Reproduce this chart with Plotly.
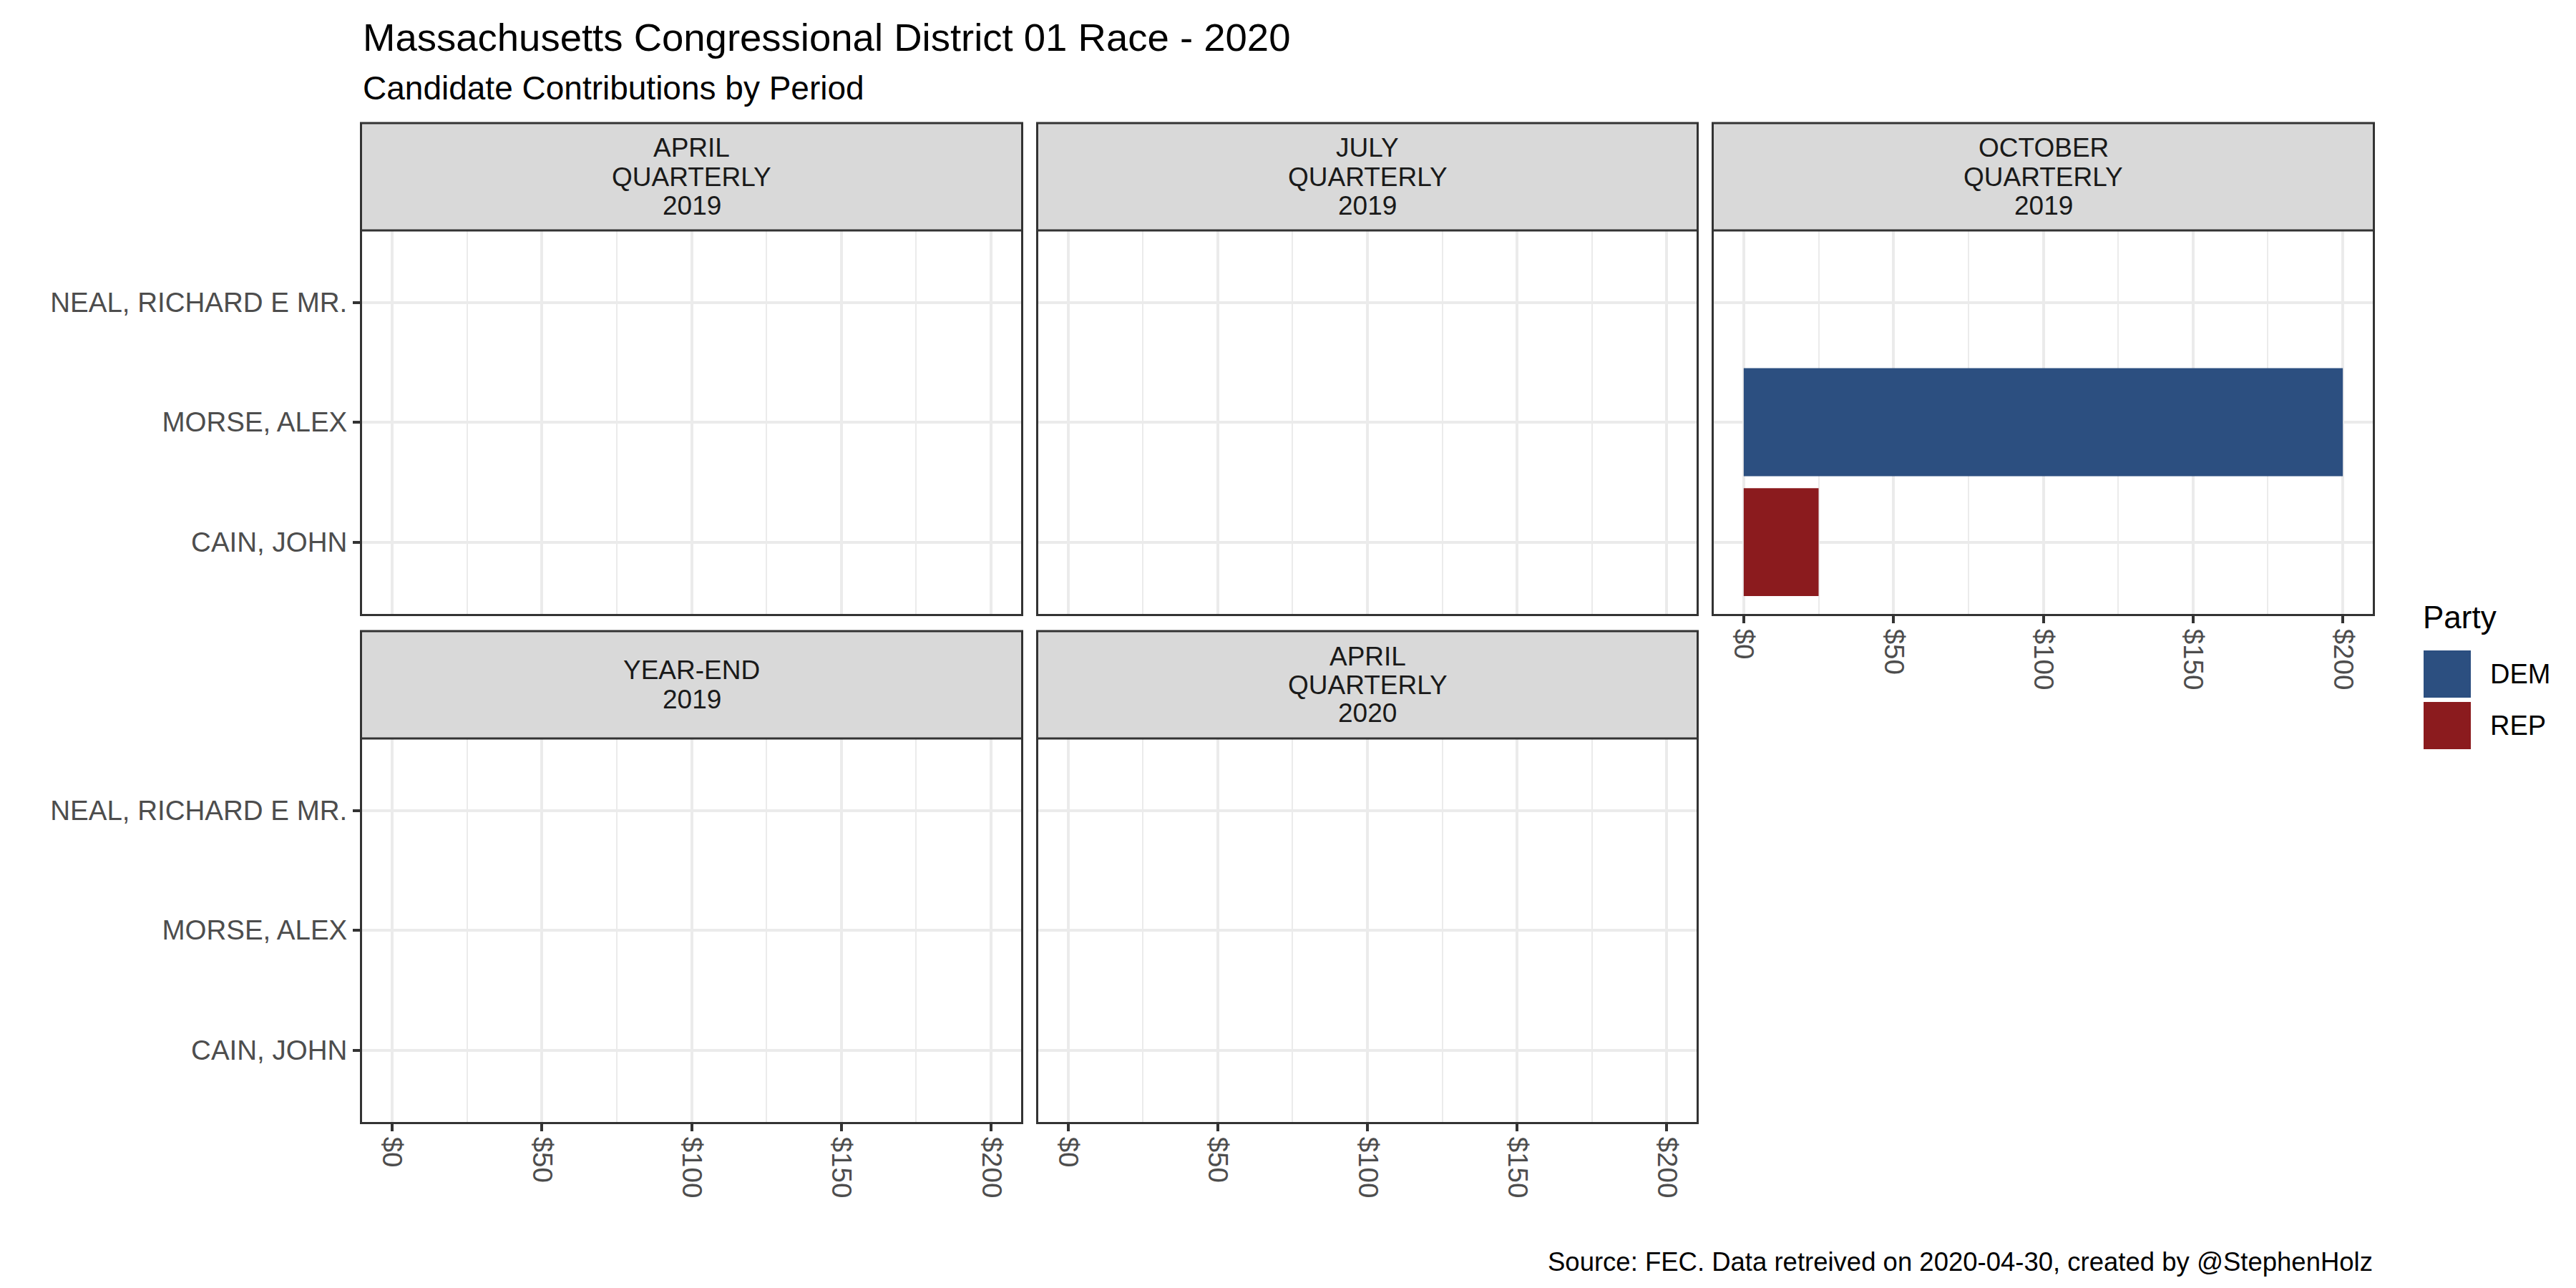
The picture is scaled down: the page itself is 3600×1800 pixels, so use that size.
import plotly.graph_objects as go

# ---------------- data ----------------
period_labels = [
    ["APRIL", "QUARTERLY", "2019"],
    ["JULY", "QUARTERLY", "2019"],
    ["OCTOBER", "QUARTERLY", "2019"],
    ["YEAR-END", "2019"],
    ["APRIL", "QUARTERLY", "2020"],
]
candidates = ["CAIN, JOHN", "MORSE, ALEX", "NEAL, RICHARD E MR."]
candidate_party = ["REP", "DEM", "DEM"]
parties = ["DEM", "REP"]
party_colors = {"DEM": "#2C4F80", "REP": "#8B1B1E"}

contrib_apr_2019 = [None, None, None]
contrib_jul_2019 = [None, None, None]
contrib_oct_2019 = [25, 200, None]
contrib_ye_2019 = [None, None, None]
contrib_apr_2020 = [None, None, None]
contributions = [contrib_apr_2019, contrib_jul_2019, contrib_oct_2019,
                 contrib_ye_2019, contrib_apr_2020]

x_tickvals = [0, 50, 100, 150, 200]
x_ticktext = ["$0", "$50", "$100", "$150", "$200"]

title_text = "Massachusetts Congressional District 01 Race - 2020"
subtitle_text = "Candidate Contributions by Period"
caption_text = "Source: FEC. Data retreived on 2020-04-30, created by @StephenHolz"
legend_title = "Party"

# ---------------- layout geometry (pixels) ----------------
W, H = 3600, 1800
col_x = [(498, 1419), (1443, 2363), (2387, 3308)]
row_y = [(314, 850), (1024, 1560)]   # panel top, bottom
strip_h = 150
FONT = "Liberation Sans, Arial, sans-serif"
GRID = "#EBEBEB"
DARK = "#333333"
TICK_SIZE = 38.5

def px_x(v):
    return v / W

def px_y(v):
    return 1 - v / H

fig = go.Figure()
shapes = []
annotations = []

n_panels = len(period_labels)
for i in range(n_panels):
    r, c = divmod(i, 3)
    ax = "" if i == 0 else str(i + 1)
    xa, ya = "x" + ax, "y" + ax
    vals = contributions[i]
    for p in parties:
        xs = [v if candidate_party[k] == p else None for k, v in enumerate(vals)]
        fig.add_trace(go.Bar(
            x=xs, y=candidates, orientation="h", width=0.9,
            marker=dict(color=party_colors[p], line=dict(width=0)),
            xaxis=xa, yaxis=ya, showlegend=False, hoverinfo="skip",
        ))
    x0, x1 = col_x[c]
    y0, y1 = row_y[r]
    has_below = (i + 3) < n_panels
    show_x = not has_below
    show_y = (c == 0)
    fig.layout["xaxis" + ax] = dict(
        domain=[px_x(x0), px_x(x1)], anchor=ya, range=[-10, 210],
        tickmode="array", tickvals=x_tickvals, ticktext=x_ticktext,
        showticklabels=show_x, ticks="outside" if show_x else "",
        ticklen=10, tickwidth=4, tickcolor=DARK, tickangle=90,
        tickfont=dict(family=FONT, size=TICK_SIZE, color="#4D4D4D"),
        showgrid=True, gridcolor=GRID, gridwidth=3.7,
        minor=dict(dtick=25, tick0=0, showgrid=True, gridcolor=GRID, gridwidth=1.8, ticks=""),
        zeroline=False, showline=True, mirror=True, linecolor=DARK, linewidth=3,
        fixedrange=True,
    )
    fig.layout["yaxis" + ax] = dict(
        domain=[px_y(y1), px_y(y0)], anchor=xa, type="category",
        categoryorder="array", categoryarray=candidates, range=[-0.6, 2.6],
        showticklabels=show_y, ticks="outside" if show_y else "",
        ticklen=10, tickwidth=4, tickcolor=DARK,
        tickfont=dict(family=FONT, size=TICK_SIZE, color="#4D4D4D"),
        showgrid=True, gridcolor=GRID, gridwidth=3.7,
        zeroline=False, showline=True, mirror=True, linecolor=DARK, linewidth=3,
        fixedrange=True,
    )
    # strip
    shapes.append(dict(type="rect", xref="paper", yref="paper",
                       x0=px_x(x0 - 1.5), x1=px_x(x1 + 1.5),
                       y0=px_y(y0), y1=px_y(y0 - strip_h),
                       fillcolor="#D9D9D9", line=dict(color=DARK, width=3), layer="above"))
    lines = period_labels[i]
    sc = y0 - strip_h / 2
    n = len(lines)
    for k, t in enumerate(lines):
        yc = sc + (k - (n - 1) / 2) * 40
        annotations.append(dict(text=t, xref="paper", yref="paper",
                                x=px_x((x0 + x1) / 2), y=px_y(yc),
                                xanchor="center", yanchor="middle", showarrow=False,
                                font=dict(family=FONT, size=37, color="#1A1A1A")))

# titles
annotations.append(dict(text=title_text, xref="paper", yref="paper", x=px_x(497), y=px_y(44),
                        xanchor="left", yanchor="middle", showarrow=False,
                        font=dict(family=FONT, size=54.5, color="#000000")))
annotations.append(dict(text=subtitle_text, xref="paper", yref="paper", x=px_x(497), y=px_y(115),
                        xanchor="left", yanchor="middle", showarrow=False,
                        font=dict(family=FONT, size=46, color="#000000")))
annotations.append(dict(text=caption_text, xref="paper", yref="paper", x=px_x(3310), y=px_y(1755),
                        xanchor="right", yanchor="middle", showarrow=False,
                        font=dict(family=FONT, size=36.5, color="#000000")))

# legend (manual)
annotations.append(dict(text=legend_title, xref="paper", yref="paper", x=px_x(3376), y=px_y(854),
                        xanchor="left", yanchor="middle", showarrow=False,
                        font=dict(family=FONT, size=44, color="#000000")))
key_top = 901
for j, p in enumerate(parties):
    ky0 = key_top + j * 72
    shapes.append(dict(type="rect", xref="paper", yref="paper",
                       x0=px_x(3379), x1=px_x(3445), y0=px_y(ky0 + 66), y1=px_y(ky0),
                       fillcolor=party_colors[p], line=dict(width=0)))
    annotations.append(dict(text=p, xref="paper", yref="paper", x=px_x(3470), y=px_y(ky0 + 33),
                            xanchor="left", yanchor="middle", showarrow=False,
                            font=dict(family=FONT, size=38, color="#000000")))

fig.update_layout(
    width=W, height=H, autosize=False,
    margin=dict(l=0, r=0, t=0, b=0),
    paper_bgcolor="white", plot_bgcolor="white",
    barmode="overlay", showlegend=False,
    shapes=shapes, annotations=annotations,
    font=dict(family=FONT),
)

fig.write_html("out.html")
